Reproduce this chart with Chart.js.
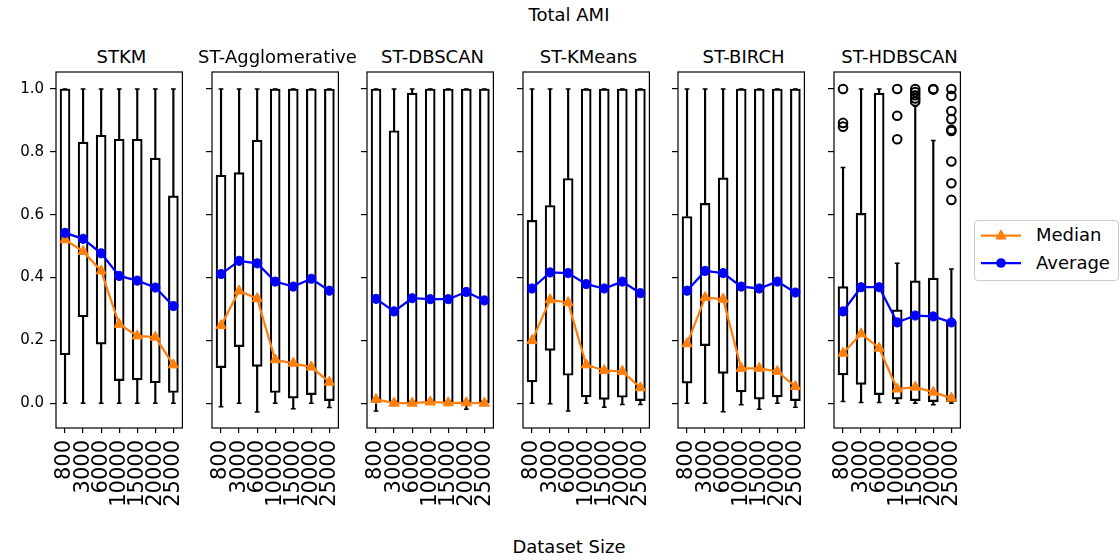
<!DOCTYPE html>
<html><head><meta charset="utf-8">
<script src="https://cdn.jsdelivr.net/npm/chart.js@4.4.0/dist/chart.umd.min.js"></script>
<style>
body{margin:0;background:#fff;width:1120px;height:560px;overflow:hidden;position:relative;font-family:'DejaVu Sans',sans-serif;}
canvas{position:absolute;}
.t{position:absolute;font-size:18px;color:#000;white-space:nowrap;transform:translate(-50%,-50%);line-height:22px;}
#legend{position:absolute;left:974px;top:220px;width:145px;height:61px;border:1px solid #cccccc;border-radius:4px;box-sizing:border-box;background:#fff;}
#legend svg{position:absolute;left:0;top:0;}
.lt{position:absolute;left:61px;font-size:18px;line-height:22px;color:#000;white-space:nowrap;}
</style></head><body>
<div class="t" style="left:569px;top:15px">Total AMI</div>
<div class="t" style="left:569px;top:547px">Dataset Size</div>
<div id="legend">
<svg width="145" height="61">
<line x1="6" y1="14.5" x2="46" y2="14.5" stroke="#ff7f0e" stroke-width="2.25"/>
<polygon points="26,9 31,18 21,18" fill="#ff7f0e" stroke="#ff7f0e" stroke-width="1"/>
<line x1="6" y1="42" x2="46" y2="42" stroke="#0000ff" stroke-width="2.25"/>
<circle cx="26" cy="42" r="4.8" fill="#0000ff"/>
</svg>
<div class="lt" style="top:3px">Median</div>
<div class="lt" style="top:31px">Average</div>
</div>
<script>
const methods = ['STKM','ST-Agglomerative','ST-DBSCAN','ST-KMeans','ST-BIRCH','ST-HDBSCAN'];
const sizes = ['800','3000','6000','10000','15000','20000','25000'];
const yTicks = [0, 0.2, 0.4, 0.6, 0.8, 1.0];

// box lower edge (Q1) per method
const q1 = [
  [0.154, 0.275, 0.188, 0.072, 0.074, 0.065, 0.034],
  [0.113, 0.180, 0.117, 0.034, 0.016, 0.027, 0.008],
  [0.000, 0.000, 0.000, 0.000, 0.000, 0.000, 0.000],
  [0.068, 0.168, 0.089, 0.020, 0.012, 0.019, 0.008],
  [0.064, 0.183, 0.095, 0.036, 0.013, 0.020, 0.008],
  [0.090, 0.060, 0.027, 0.013, 0.008, 0.005, 0.005]
];
// box upper edge (Q3)
const q3 = [
  [1.000, 0.831, 0.853, 0.840, 0.840, 0.780, 0.660],
  [0.726, 0.734, 0.837, 1.000, 1.000, 1.000, 1.000],
  [1.000, 0.867, 0.987, 1.000, 1.000, 1.000, 1.000],
  [0.582, 0.629, 0.715, 1.000, 1.000, 1.000, 1.000],
  [0.594, 0.636, 0.717, 1.000, 1.000, 1.000, 1.000],
  [0.371, 0.604, 0.987, 0.297, 0.389, 0.398, 0.260]
];
// lower whisker
const whiskerLow = [
  [0.000, 0.000, 0.000, 0.000, 0.000, 0.000, 0.000],
  [-0.011, 0.000, -0.028, 0.000, -0.018, 0.000, -0.014],
  [-0.025, 0.000, 0.000, 0.000, 0.000, -0.019, 0.000],
  [0.000, -0.002, -0.025, 0.000, -0.013, -0.004, -0.004],
  [0.000, 0.000, -0.027, -0.005, -0.019, 0.000, -0.013],
  [0.005, 0.002, 0.002, 0.000, 0.000, -0.005, 0.000]
];
// upper whisker
const whiskerHigh = [
  [1, 1, 1, 1, 1, 1, 1],
  [1, 1, 1, 1, 1, 1, 1],
  [1, 1, 1, 1, 1, 1, 1],
  [1, 1, 1, 1, 1, 1, 1],
  [1, 1, 1, 1, 1, 1, 1],
  [0.750, 1.000, 1.000, 0.445, 0.946, 0.836, 0.427]
];
const medians = [
  [0.520, 0.483, 0.421, 0.251, 0.214, 0.210, 0.122],
  [0.247, 0.357, 0.333, 0.138, 0.127, 0.115, 0.067],
  [0.012, 0.000, 0.000, 0.004, 0.001, 0.001, 0.000],
  [0.199, 0.329, 0.320, 0.122, 0.104, 0.101, 0.049],
  [0.189, 0.336, 0.331, 0.111, 0.111, 0.101, 0.053],
  [0.159, 0.221, 0.175, 0.045, 0.051, 0.035, 0.016]
];
const averages = [
  [0.542, 0.523, 0.477, 0.405, 0.390, 0.368, 0.309],
  [0.411, 0.453, 0.445, 0.387, 0.371, 0.396, 0.358],
  [0.332, 0.292, 0.334, 0.331, 0.331, 0.354, 0.327],
  [0.365, 0.416, 0.414, 0.379, 0.365, 0.387, 0.350],
  [0.358, 0.421, 0.414, 0.371, 0.365, 0.387, 0.352],
  [0.292, 0.369, 0.369, 0.257, 0.279, 0.276, 0.257]
];
const outliers = [
  [[],[],[],[],[],[],[]],
  [[],[],[],[],[],[],[]],
  [[],[],[],[],[],[],[]],
  [[],[],[],[],[],[],[]],
  [[],[],[],[],[],[],[]],
  [[1.0, 0.892, 0.880], [], [], [1.0, 0.915, 0.840], [1.0, 0.99, 0.98, 0.97, 0.96], [1.0, 0.998],
   [1.0, 0.978, 0.930, 0.904, 0.870, 0.866, 0.769, 0.700, 0.647]]
];

Chart.defaults.font.family = "'DejaVu Sans', sans-serif";
Chart.defaults.color = '#000';

const P_LEFT = [56, 212, 367, 523, 678, 834];
const PW = 131, TOP = 72, PH = 356, TOPPAD = 30, XH = 92, RPAD = 20;

const frame = {
  id: 'frame',
  afterDraw(c) {
    const a = c.chartArea, x = c.ctx;
    x.save(); x.strokeStyle = '#000'; x.lineWidth = 1.2;
    x.strokeRect(a.left, a.top, a.right - a.left, a.bottom - a.top);
    x.restore();
  }
};

methods.forEach((m, i) => {
  const yW = i === 0 ? 56 : 20;
  const ttl = document.createElement('div');
  ttl.className = 't';
  ttl.style.left = (P_LEFT[i] + PW / 2) + 'px';
  ttl.style.top = '57px';
  ttl.textContent = m;
  document.body.appendChild(ttl);

  const cv = document.createElement('canvas');
  const w = yW + PW + RPAD, h = TOPPAD + PH + XH;
  cv.width = w; cv.height = h;
  cv.style.left = (P_LEFT[i] - yW) + 'px';
  cv.style.top = (TOP - TOPPAD) + 'px';
  cv.style.width = w + 'px'; cv.style.height = h + 'px';
  document.body.appendChild(cv);

  const out = [];
  outliers[i].forEach((arr, j) => arr.forEach(v => out.push({x: sizes[j], y: v})));

  new Chart(cv, {
    type: 'bar',
    data: {
      labels: sizes,
      datasets: [
        {type: 'line', label: 'Average', data: averages[i], borderColor: '#0000ff', backgroundColor: '#0000ff',
         borderWidth: 2.25, pointStyle: 'circle', pointRadius: 4.6, pointBorderWidth: 1, tension: 0},
        {type: 'line', label: 'Median', data: medians[i], borderColor: '#ff7f0e', backgroundColor: '#ff7f0e',
         borderWidth: 2.25, pointStyle: 'triangle', pointRadius: 6, pointBorderWidth: 1, tension: 0},
        {type: 'line', label: 'outliers', data: out, showLine: false, pointStyle: 'circle', pointRadius: 4.3,
         pointBorderWidth: 2, borderColor: '#000', pointBorderColor: '#000', pointBackgroundColor: 'rgba(0,0,0,0)'},
        {type: 'line', label: 'capHigh', data: whiskerHigh[i], showLine: false, pointStyle: 'line', pointRadius: 2.4,
         pointBorderWidth: 1.5, borderColor: '#000', pointBorderColor: '#000'},
        {type: 'line', label: 'capLow', data: whiskerLow[i], showLine: false, pointStyle: 'line', pointRadius: 2.4,
         pointBorderWidth: 1.5, borderColor: '#000', pointBorderColor: '#000'},
        {type: 'bar', label: 'box', data: q1[i].map((v, j) => [v, q3[i][j]]), grouped: false, barThickness: 10,
         backgroundColor: 'rgba(0,0,0,0)', borderColor: '#000', borderWidth: 1.5, borderSkipped: false},
        {type: 'bar', label: 'wHigh', data: q3[i].map((v, j) => [v, whiskerHigh[i][j]]), grouped: false, barThickness: 1.5,
         backgroundColor: '#000', borderWidth: 0},
        {type: 'bar', label: 'wLow', data: whiskerLow[i].map((v, j) => [v, q1[i][j]]), grouped: false, barThickness: 1.5,
         backgroundColor: '#000', borderWidth: 0}
      ]
    },
    options: {
      responsive: false, animation: false, events: [],
      layout: {padding: {left: 0, right: RPAD, top: TOPPAD, bottom: 0}},
      plugins: {
        legend: {display: false}, tooltip: {enabled: false}, title: {display: false}
      },
      scales: {
        x: {
          type: 'category', offset: true,
          grid: {offset: false, drawOnChartArea: false, drawTicks: true, tickLength: 5, color: '#000', lineWidth: 1.2},
          border: {display: false},
          ticks: {autoSkip: false, maxRotation: 90, minRotation: 90, padding: 7, color: '#000', font: {size: 21}},
          afterFit(s) { s.height = XH; }
        },
        y: {
          type: 'linear', min: -0.079, max: 1.054,
          afterBuildTicks(s) { s.ticks = yTicks.map(v => ({value: v})); },
          grid: {drawOnChartArea: false, drawTicks: true, tickLength: 6, color: '#000', lineWidth: 1.2},
          border: {display: false},
          ticks: {display: i === 0, padding: 6, color: '#000', font: {size: 15}, callback: v => Number(v).toFixed(1)},
          afterFit(s) { s.width = yW; }
        }
      }
    },
    plugins: [frame]
  });
});
</script>
</body></html>
